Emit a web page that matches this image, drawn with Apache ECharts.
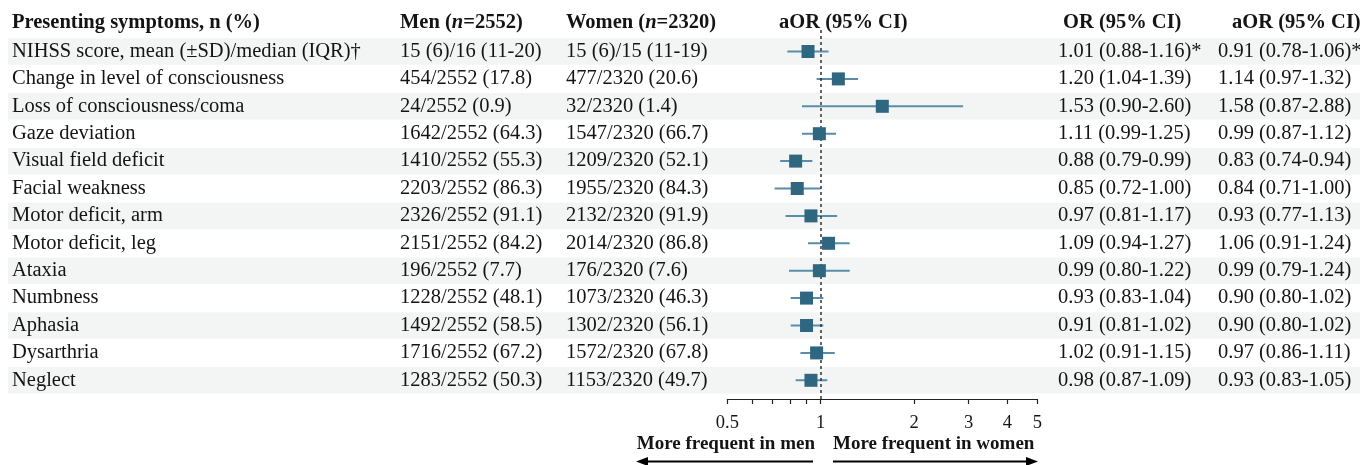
<!DOCTYPE html>
<html><head><meta charset="utf-8">
<script src="https://cdn.jsdelivr.net/npm/echarts@6/dist/echarts.min.js"></script>
<style>html,body{margin:0;padding:0;background:#fff}#c{width:1360px;height:465px}</style>
</head><body><div id="c"></div>
<script>
// ---------- data ----------
const symptoms = [
  'NIHSS score, mean (\u00B1SD)/median (IQR)\u2020',
  'Change in level of consciousness',
  'Loss of consciousness/coma',
  'Gaze deviation',
  'Visual field deficit',
  'Facial weakness',
  'Motor deficit, arm',
  'Motor deficit, leg',
  'Ataxia',
  'Numbness',
  'Aphasia',
  'Dysarthria',
  'Neglect'
];
const menCounts = [
  '15 (6)/16 (11-20)', '454/2552 (17.8)', '24/2552 (0.9)', '1642/2552 (64.3)',
  '1410/2552 (55.3)', '2203/2552 (86.3)', '2326/2552 (91.1)', '2151/2552 (84.2)',
  '196/2552 (7.7)', '1228/2552 (48.1)', '1492/2552 (58.5)', '1716/2552 (67.2)', '1283/2552 (50.3)'
];
const womenCounts = [
  '15 (6)/15 (11-19)', '477/2320 (20.6)', '32/2320 (1.4)', '1547/2320 (66.7)',
  '1209/2320 (52.1)', '1955/2320 (84.3)', '2132/2320 (91.9)', '2014/2320 (86.8)',
  '176/2320 (7.6)', '1073/2320 (46.3)', '1302/2320 (56.1)', '1572/2320 (67.8)', '1153/2320 (49.7)'
];
const orText = [
  '1.01 (0.88-1.16)*', '1.20 (1.04-1.39)', '1.53 (0.90-2.60)', '1.11 (0.99-1.25)',
  '0.88 (0.79-0.99)', '0.85 (0.72-1.00)', '0.97 (0.81-1.17)', '1.09 (0.94-1.27)',
  '0.99 (0.80-1.22)', '0.93 (0.83-1.04)', '0.91 (0.81-1.02)', '1.02 (0.91-1.15)', '0.98 (0.87-1.09)'
];
const aorText = [
  '0.91 (0.78-1.06)*', '1.14 (0.97-1.32)', '1.58 (0.87-2.88)', '0.99 (0.87-1.12)',
  '0.83 (0.74-0.94)', '0.84 (0.71-1.00)', '0.93 (0.77-1.13)', '1.06 (0.91-1.24)',
  '0.99 (0.79-1.24)', '0.90 (0.80-1.02)', '0.90 (0.80-1.02)', '0.97 (0.86-1.11)', '0.93 (0.83-1.05)'
];
const aor     = [0.91, 1.14, 1.58, 0.99, 0.83, 0.84, 0.93, 1.06, 0.99, 0.90, 0.90, 0.97, 0.93];
const aorLow  = [0.78, 0.97, 0.87, 0.87, 0.74, 0.71, 0.77, 0.91, 0.79, 0.80, 0.80, 0.86, 0.83];
const aorHigh = [1.06, 1.32, 2.88, 1.12, 0.94, 1.00, 1.13, 1.24, 1.24, 1.02, 1.02, 1.11, 1.05];
const tickValues = [0.5, 1, 2, 3, 4, 5];
const tickLabels = ['0.5', '1', '2', '3', '4', '5'];
const minorTickValues = [0.6, 0.7, 0.8, 0.9];
const headers = ['Presenting symptoms, n (%)', 'Men (n=2552)', 'Women (n=2320)', 'aOR (95% CI)', 'OR (95% CI)', 'aOR (95% CI)'];
const arrowLabels = ['More frequent in men', 'More frequent in women'];

// ---------- layout ----------
const FONT = '"Liberation Serif", "Times New Roman", serif';
const TXT = '#141414';
const gridTop = 30, gridBottom = 399;
const firstRow = 51.5, pitch = 27.4;
const yMin = -(firstRow - gridTop) / pitch;
const yMax = yMin + (gridBottom - gridTop) / pitch;
const colX = [12, 400, 566, 1058, 1218];
const L = Math.log10;

const rowIdx = symptoms.map((_, i) => i);

const chart = echarts.init(document.getElementById('c'), null, {renderer: 'canvas'});

function boldRich(s) {
  const m = s.match(/^(.*\()n(=.*)$/);
  if (!m) return '{b|' + s + '}';
  return '{b|' + m[1] + '}{i|n}{b|' + m[2] + '}';
}
const richStyle = {
  b: {fontFamily: FONT, fontWeight: 'bold', fontSize: 20.5, fill: TXT},
  i: {fontFamily: FONT, fontWeight: 'bold', fontStyle: 'italic', fontSize: 20.5, fill: TXT}
};

const option = {
  animation: false,
  backgroundColor: '#fff',
  grid: [
    {left: 8, right: 0, top: gridTop, height: gridBottom - gridTop},
    {left: 727.4, width: 310, top: gridTop, height: gridBottom - gridTop}
  ],
  xAxis: [
    {gridIndex: 0, type: 'value', min: 0, max: 1, show: false},
    {
      gridIndex: 1, type: 'value', position: 'bottom', min: L(0.5), max: L(5),
      axisLine: {show: true, onZero: false, lineStyle: {color: '#222', width: 1.2}},
      axisTick: {show: true, inside: false, length: 5, lineStyle: {color: '#222', width: 1.2},
        customValues: tickValues.concat(minorTickValues).map(L)},
      axisLabel: {
        show: true, margin: 15, color: TXT, fontFamily: FONT, fontSize: 18.5,
        customValues: tickValues.map(L),
        formatter: v => {
          let best = 0;
          tickValues.forEach((t, k) => { if (Math.abs(L(t) - v) < Math.abs(L(tickValues[best]) - v)) best = k; });
          return tickLabels[best];
        }
      },
      splitLine: {show: false}
    }
  ],
  yAxis: [
    {gridIndex: 0, type: 'value', inverse: true, min: yMin, max: yMax, show: false},
    {gridIndex: 1, type: 'value', inverse: true, min: yMin, max: yMax, show: false}
  ],
  series: [
    {
      type: 'custom', xAxisIndex: 0, yAxisIndex: 0, silent: true, z: 1,
      data: rowIdx.filter(i => i % 2 === 0).map(i => [i]),
      renderItem: (params, api) => {
        const i = api.value(0);
        const a = api.coord([0, i]);
        const b = api.coord([1, i]);
        const h = api.size([0, 1])[1] * 0.97;
        return {type: 'rect', shape: {x: a[0], y: a[1] - h / 2, width: b[0] - a[0], height: h},
          style: {fill: '#f3f5f5'}};
      }
    },
    {
      type: 'custom', xAxisIndex: 0, yAxisIndex: 0, silent: true, z: 2,
      data: rowIdx.map(i => [i]),
      renderItem: (params, api) => {
        const i = api.value(0);
        const y = api.coord([0, i])[1];
        const cols = [symptoms[i], menCounts[i], womenCounts[i], orText[i], aorText[i]];
        return {
          type: 'group',
          children: cols.map((t, k) => ({
            type: 'text', x: colX[k], y: y,
            style: {text: t, fontFamily: FONT, fontSize: 20.5, fill: TXT, verticalAlign: 'middle', align: 'left'}
          }))
        };
      }
    },
    {
      type: 'custom', xAxisIndex: 1, yAxisIndex: 1, silent: true, z: 3,
      data: rowIdx.map(i => [L(aorLow[i]), L(aorHigh[i]), i]),
      renderItem: (params, api) => {
        const a = api.coord([api.value(0), api.value(2)]);
        const b = api.coord([api.value(1), api.value(2)]);
        return {type: 'line', shape: {x1: a[0], y1: a[1], x2: b[0], y2: b[1]},
          style: {stroke: '#5a8daa', lineWidth: 2}};
      }
    },
    {
      type: 'line', xAxisIndex: 1, yAxisIndex: 1, data: [], z: 4, silent: true,
      markLine: {
        silent: true, symbol: ['none', 'none'], label: {show: false},
        lineStyle: {type: [3, 3], color: '#333', width: 1.5},
        data: [{xAxis: L(1)}]
      }
    },
    {
      type: 'scatter', xAxisIndex: 1, yAxisIndex: 1, z: 5, silent: true,
      symbol: 'rect', symbolSize: 13,
      itemStyle: {color: '#2f6680', opacity: 1},
      data: rowIdx.map(i => [L(aor[i]), i])
    }
  ],
  graphic: [
    ...[12, 400, 566, 779, 1063, 1232].map((x, k) => ({
      type: 'text', x: x, y: 23, silent: true,
      style: {text: boldRich(headers[k]), rich: richStyle, fontFamily: FONT, fontWeight: 'bold',
        fontSize: 20.5, fill: TXT, verticalAlign: 'middle', align: 'left'}
    })),
    {type: 'text', x: 815, y: 444, silent: true,
      style: {text: arrowLabels[0], fontFamily: FONT, fontWeight: 'bold', fontSize: 19, fill: TXT, align: 'right', verticalAlign: 'middle'}},
    {type: 'text', x: 833, y: 444, silent: true,
      style: {text: arrowLabels[1], fontFamily: FONT, fontWeight: 'bold', fontSize: 19, fill: TXT, align: 'left', verticalAlign: 'middle'}},
    {type: 'line', silent: true, shape: {x1: 813, y1: 461.5, x2: 645, y2: 461.5}, style: {stroke: '#000', lineWidth: 2}},
    {type: 'polygon', silent: true, shape: {points: [[636, 461.5], [648, 457], [648, 466]]}, style: {fill: '#000'}},
    {type: 'line', silent: true, shape: {x1: 833, y1: 461.5, x2: 1029, y2: 461.5}, style: {stroke: '#000', lineWidth: 2}},
    {type: 'polygon', silent: true, shape: {points: [[1038, 461.5], [1026, 457], [1026, 466]]}, style: {fill: '#000'}}
  ]
};
chart.setOption(option);
</script>
</body></html>
